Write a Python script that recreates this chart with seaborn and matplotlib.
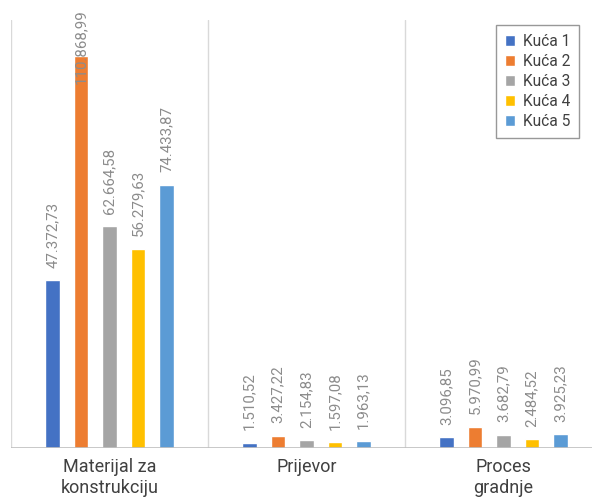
import matplotlib
matplotlib.use("Agg")
import matplotlib.pyplot as plt
import seaborn as sns
import pandas as pd

categories = ["Materijal za\nkonstrukciju", "Prijevor", "Proces\ngradnje"]
series = ["Kuća 1", "Kuća 2", "Kuća 3", "Kuća 4", "Kuća 5"]
kuca1 = [47372.73, 1510.52, 3096.85]
kuca2 = [110868.99, 3427.22, 5970.99]
kuca3 = [62664.58, 2154.83, 3682.79]
kuca4 = [56279.63, 1597.08, 2484.52]
kuca5 = [74433.87, 1963.13, 3925.23]
colors = ["#4472C4", "#ED7D31", "#A5A5A5", "#FFC000", "#5B9BD5"]

sns.set_theme(style="white")
plt.rcParams['font.family'] = ['Roboto', 'DejaVu Sans']

rows = []
for name, vals in zip(series, [kuca1, kuca2, kuca3, kuca4, kuca5]):
    for c, v in zip(categories, vals):
        rows.append({"kategorija": c, "kuca": name, "vrijednost": v})
df = pd.DataFrame(rows)

fig = plt.figure(figsize=(5.92, 4.97), dpi=100)
ax = fig.add_axes([11/592, 1 - 448/497, 591/592, (448 - 20)/497])

sns.barplot(data=df, x="kategorija", y="vrijednost", hue="kuca", order=categories,
            hue_order=series, palette=colors, width=0.723, gap=0.475,
            errorbar=None, saturation=1, ax=ax, legend=True)

def fmt(v):
    s = f"{v:,.2f}"
    return s.replace(",", "X").replace(".", ",").replace("X", ".")

PAD = 9
texts = []
for cont in ax.containers:
    texts += ax.bar_label(cont, labels=[fmt(b.get_height()) for b in cont], rotation=90,
                          padding=PAD, color="#8c8c8c", fontsize=10.8, clip_on=False)

ax.set_xlim(-0.5, 2.5)
ax.set_ylim(0, 121000)
for x in [-0.5, 0.5, 1.5, 2.5]:
    ax.axvline(x, color="#d9d9d9", lw=1, zorder=0)
ax.axhline(0, color="#bfbfbf", lw=1.2, zorder=3)
for s in ax.spines.values():
    s.set_visible(False)
ax.set_yticks([])
ax.set_xlabel("")
ax.set_ylabel("")
ax.tick_params(axis="x", length=0, pad=7, labelsize=13, labelcolor="#404040")
for t in ax.get_xticklabels():
    t.set_linespacing(1.22)

leg = ax.legend(loc="upper left", bbox_to_anchor=(496/592, 1 - 25/497),
                bbox_transform=fig.transFigure, frameon=True, fontsize=11.2,
                handlelength=0.7, handleheight=0.7, handletextpad=0.5,
                labelspacing=0.33, borderpad=0.55, fancybox=False, borderaxespad=0)
leg.get_frame().set_edgecolor("#7f7f7f")
leg.get_frame().set_linewidth(1)
for t in leg.get_texts():
    t.set_color("#404040")

# keep data labels inside the figure (shift down if they would be cut)
fig.canvas.draw()
r = fig.canvas.get_renderer()
H = fig.bbox.height
for t in texts:
    bb = t.get_window_extent(r)
    if bb.y1 > H - 9:
        dy_pt = (bb.y1 - (H - 9)) * 72 / fig.dpi
        x0, y0 = t.xyann
        t.xyann = (x0, y0 - dy_pt)

fig.savefig("out.png", dpi=100)
